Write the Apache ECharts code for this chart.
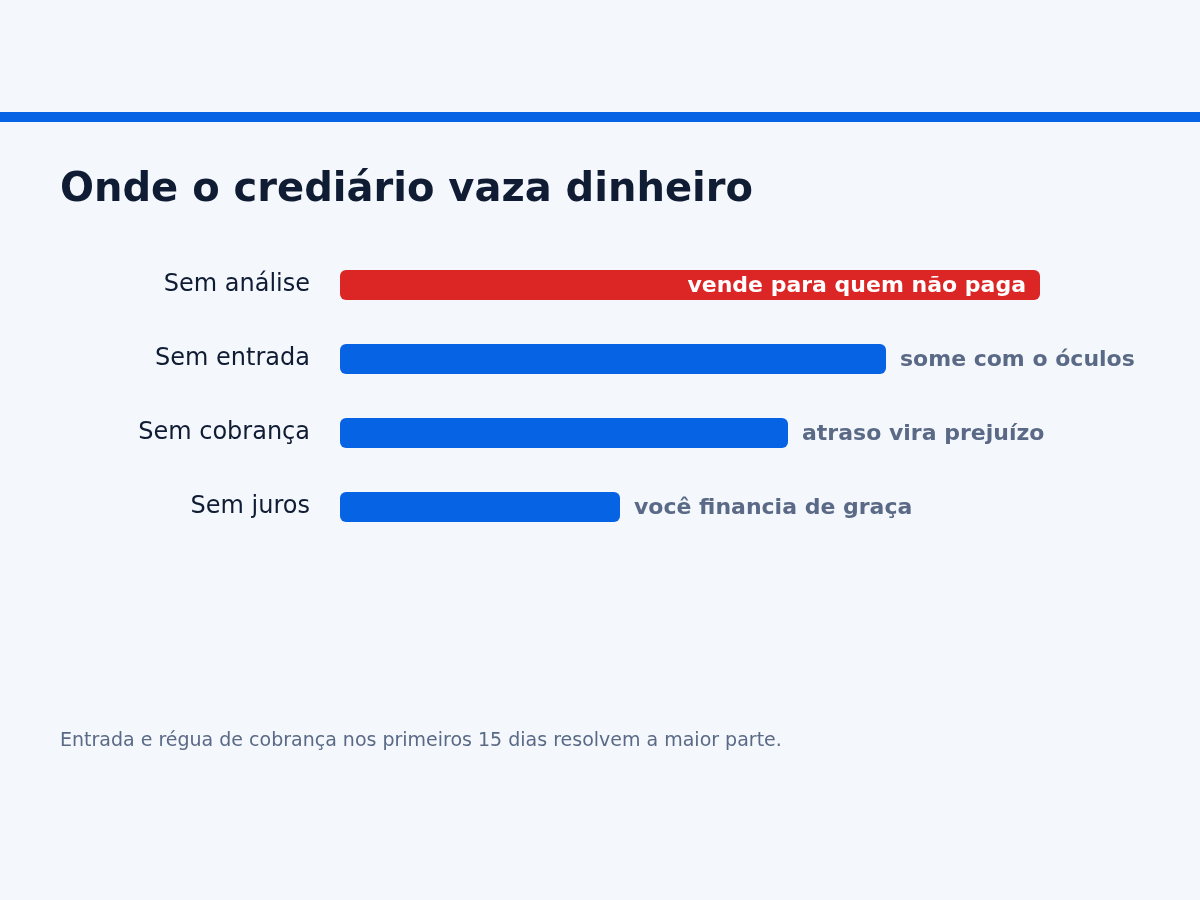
<!DOCTYPE html>
<html>
<head>
<meta charset="utf-8">
<script src="https://cdn.jsdelivr.net/npm/echarts@6/dist/echarts.min.js"></script>
<style>
html,body{margin:0;padding:0;background:#f4f7fc;}
#c{width:1200px;height:900px;}
</style>
</head>
<body>
<div id="c"></div>
<script>
const categories = ["Sem análise", "Sem entrada", "Sem cobrança", "Sem juros"];
const values = [100, 78, 64, 40];
const notes = ["vende para quem não paga", "some com o óculos", "atraso vira prejuízo", "você financia de graça"];
const highlight = [true, false, false, false];
const titleText = "Onde o crediário vaza dinheiro";
const footText = "Entrada e régua de cobrança nos primeiros 15 dias resolvem a maior parte.";

const FONT = "DejaVu Sans";
const BLUE = "#0663e4";
const RED = "#dc2626";
const GREY = "#5a6a86";
const DARK = "#0f1c33";

const chart = echarts.init(document.getElementById('c'), null, {renderer: 'canvas'});
const data = values.map((v, i) => ({
  value: v,
  itemStyle: {color: highlight[i] ? RED : BLUE},
  label: highlight[i]
    ? {position: 'insideRight', distance: 14, color: '#ffffff'}
    : {position: 'right', distance: 14, color: GREY}
}));

chart.setOption({
  backgroundColor: '#f4f7fc',
  animation: false,
  grid: {left: 340, right: 160, top: 248, bottom: 356, containLabel: false},
  xAxis: {type: 'value', min: 0, max: 100, show: false},
  yAxis: {
    type: 'category', data: categories, inverse: true,
    axisLine: {show: false}, axisTick: {show: false}, splitLine: {show: false},
    axisLabel: {color: DARK, fontFamily: FONT, fontSize: 24, margin: 30, padding: [2, 0, 0, 0]}
  },
  series: [{
    type: 'bar', data: data, barWidth: 30,
    itemStyle: {borderRadius: 6},
    label: {
      show: true, fontFamily: FONT, fontSize: 22, fontWeight: 'bold',
      offset: [0, 1],
      formatter: p => notes[p.dataIndex]
    }
  }],
  graphic: [
    {type: 'rect', left: 0, top: 112, shape: {width: 1200, height: 10}, style: {fill: BLUE}},
    {type: 'text', x: 60, y: 191, style: {text: titleText, fill: DARK, font: 'bold 40px "DejaVu Sans"', textVerticalAlign: 'middle'}},
    {type: 'text', x: 60, y: 741, style: {text: footText, fill: GREY, font: '19px "DejaVu Sans"', textVerticalAlign: 'middle'}}
  ]
});
</script>
</body>
</html>
